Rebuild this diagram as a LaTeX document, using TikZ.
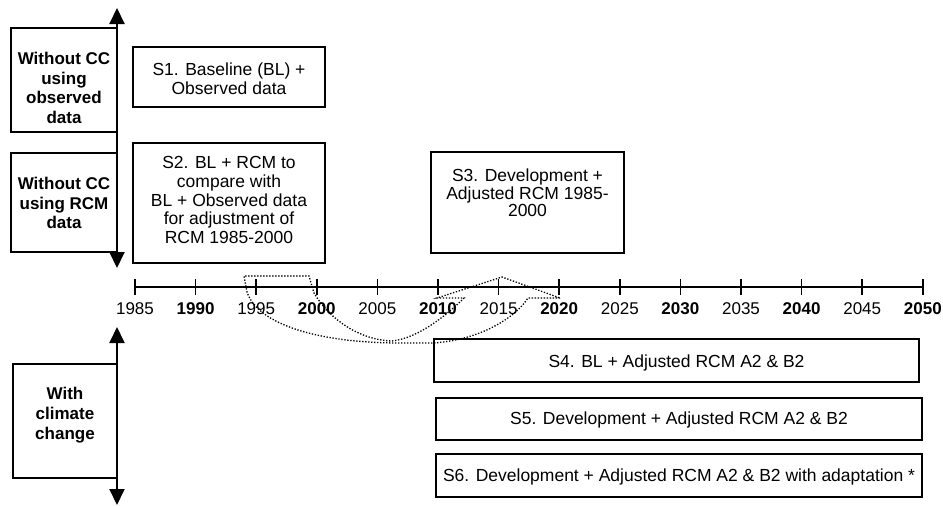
\documentclass[tikz,border=0pt]{standalone}
\usepackage{fontspec}
\setmainfont{Liberation Sans}
\usetikzlibrary{arrows.meta}
\begin{document}
\begin{tikzpicture}[x=1pt,y=-1pt,
  box/.style={draw, line width=1.4pt, inner sep=0pt},
  txt/.style={align=center, inner sep=0pt, font=\fontsize{17.5}{18.75}\selectfont},
  btxt/.style={align=center, inner sep=0pt, font=\fontsize{17}{19.5}\selectfont\bfseries},
  yr/.style={inner sep=0pt, anchor=base, font=\fontsize{17}{20}\selectfont},
  byr/.style={inner sep=0pt, anchor=base, font=\fontsize{17}{20}\selectfont\bfseries},
  dblarrow/.style={line width=2pt, {Triangle[width=15pt,length=16pt]}-{Triangle[width=15pt,length=16pt]}},
  axisline/.style={line width=2pt},
  tickline/.style={line width=1.5pt},
  dotline/.style={line width=1.3pt, dash pattern=on 1.3pt off 1.7pt}]
\useasboundingbox (0,0) rectangle (943,506);

% left category boxes
\node[box, minimum width=106pt, minimum height=104pt] (l1) at (64,80) {};
\node[btxt] (l1t) at (64,88) {Without CC\\using\\observed\\data};
\node[box, minimum width=106pt, minimum height=99pt] (l2) at (64,202.5) {};
\node[btxt] (l2t) at (64,203) {Without CC\\using RCM\\data};
\node[box, minimum width=104pt, minimum height=114pt] (l3) at (65,421) {};
\node[btxt, font=\fontsize{17}{20}\selectfont\bfseries] (l3t) at (65,415) {With\\climate\\change};

% vertical arrows
\coordinate (a1t) at (117,8);
\coordinate (a1b) at (117,268);
\draw[dblarrow] (a1b) -- (a1t);
\coordinate (a2t) at (117,327);
\coordinate (a2b) at (117,505);
\draw[dblarrow] (a2b) -- (a2t);

% scenario boxes
\node[box, minimum width=192pt, minimum height=60pt] (s1) at (229,77) {};
\node[txt] (s1t) at (229,79) {S1. Baseline (BL) +\\Observed data};
\node[box, minimum width=192pt, minimum height=120pt] (s2) at (229,203) {};
\node[txt] (s2t) at (229,200) {S2. BL + RCM to\\compare with\\BL + Observed data\\for adjustment of\\RCM 1985-2000};
\node[box, minimum width=193pt, minimum height=101pt] (s3) at (527.5,202.5) {};
\node[txt, font=\fontsize{17.5}{17.5}\selectfont] (s3t) at (527.5,193) {S3. Development +\\Adjusted RCM 1985-\\2000};
\node[box, minimum width=485pt, minimum height=43pt] (s4) at (676.5,360.5) {};
\node[txt, anchor=base] (s4t) at (676.5,367) {S4. BL + Adjusted RCM A2 \& B2};
\node[box, minimum width=486pt, minimum height=42pt] (s5) at (679,419) {};
\node[txt, anchor=base] (s5t) at (679,424) {S5. Development + Adjusted RCM A2 \& B2};
\node[box, minimum width=486pt, minimum height=43pt] (s6) at (679,475.5) {};
\node[txt, anchor=base] (s6t) at (679,481) {S6. Development + Adjusted RCM A2 \& B2 with adaptation *};

% time axis
\coordinate (ax0) at (135,287);
\coordinate (ax1) at (922.8,287);
\draw[axisline] (ax0) -- (ax1);
\foreach \k in {0,...,13}{
  \pgfmathtruncatemacro\yrv{1985+5*\k}
  \pgfmathsetmacro\xx{135+60.6*\k}
  \draw[tickline] (\xx,279) -- (\xx,295);
  \ifodd\k
    \node[byr] (y\yrv) at (\xx,314) {\yrv};
  \else
    \node[yr] (y\yrv) at (\xx,314) {\yrv};
  \fi
}

% dotted mapping loop
\draw[dotline] (560,298) -- (528,298)
  .. controls (515,318) and (480,340) .. (433,343) -- (400,343)
  .. controls (320,343) and (258,325) .. (247,292) -- (244,276) -- (309,276) -- (314,293)
  .. controls (330,320) and (360,340) .. (392,341)
  .. controls (420,338) and (450,312) .. (464,298) -- (437,298) -- (502,277) -- cycle;
\end{tikzpicture}
\end{document}
